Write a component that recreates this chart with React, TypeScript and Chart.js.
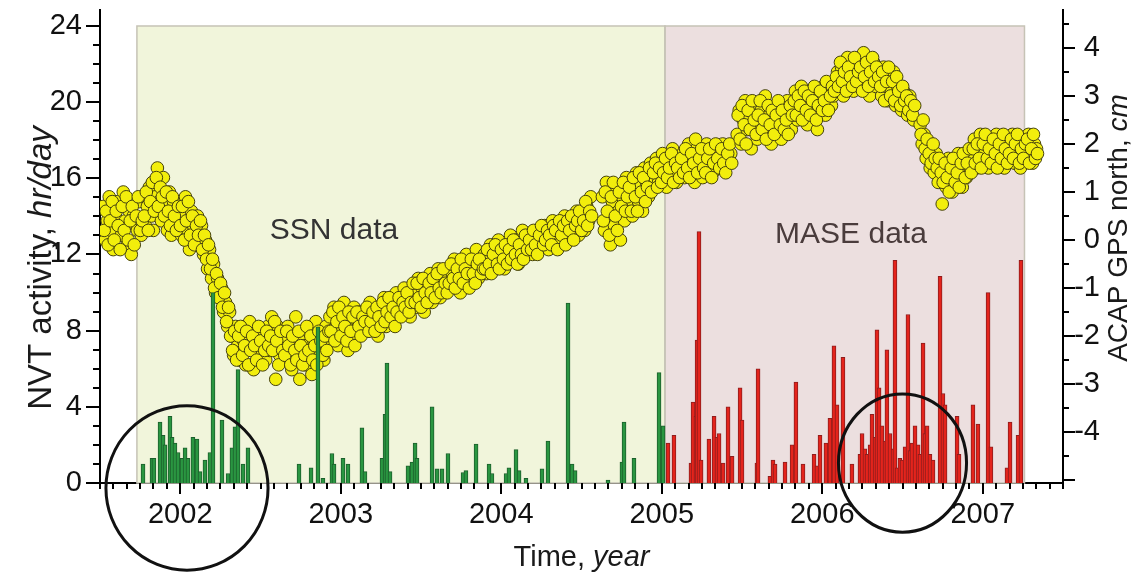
import React, { useEffect, useRef } from 'react';
import { Chart, registerables } from 'chart.js';

Chart.register(...registerables);

// ---------- tick labels ----------
const xTickYears = [2002, 2003, 2004, 2005, 2006, 2007];
const leftTicks = [0, 4, 8, 12, 16, 20, 24];
const rightTicks = [4, 3, 2, 1, 0, -1, -2, -3, -4];

// ---------- NVT activity bars (hr/day) ----------
const ssnBarYears = [
  2001.768, 2001.824, 2001.836, 2001.874, 2001.893, 2001.905, 2001.936, 2001.949, 2001.967, 2001.986,
  2002.011, 2002.030, 2002.048, 2002.079, 2002.104, 2002.123, 2002.154, 2002.185, 2002.204, 2002.260,
  2002.298, 2002.322, 2002.341, 2002.360, 2002.391, 2002.422, 2002.740, 2002.815, 2002.858, 2002.889,
  2002.945, 2002.958, 2003.014, 2003.045, 2003.132, 2003.151, 2003.257, 2003.276, 2003.288, 2003.307,
  2003.419, 2003.444, 2003.463, 2003.475, 2003.569, 2003.600, 2003.631, 2003.668, 2003.762, 2003.780,
  2003.843, 2003.924, 2003.942, 2004.030, 2004.048, 2004.092, 2004.111, 2004.154, 2004.254, 2004.291,
  2004.416, 2004.441, 2004.460, 2004.665, 2004.752, 2004.765, 2004.827, 2004.983, 2005.008,
];
const ssnBarHours = [
  1.0, 1.3, 1.3, 3.2, 2.5, 2.0, 3.5, 2.4, 2.1, 1.6,
  1.3, 1.85, 1.3, 2.4, 2.3, 0.6, 1.2, 1.6, 10.0, 3.3,
  0.5, 1.85, 2.95, 5.95, 1.0, 1.85, 1.0, 0.8, 8.2, 0.25,
  1.55, 1.0, 1.3, 1.0, 2.9, 0.6, 1.3, 3.6, 6.3, 0.6,
  0.9, 1.1, 2.1, 1.3, 4.0, 0.75, 0.75, 1.55, 0.55, 0.65,
  2.05, 1.0, 0.5, 0.5, 0.8, 1.75, 0.65, 0.25, 0.75, 2.2,
  9.45, 1.0, 0.65, 0.15, 1.1, 3.2, 1.3, 5.8, 3.0,
];
const maseBarYears = [
  2005.039, 2005.076, 2005.182, 2005.195, 2005.213, 2005.220, 2005.232, 2005.245, 2005.294, 2005.326,
  2005.344, 2005.357, 2005.382, 2005.413, 2005.438, 2005.488, 2005.500, 2005.593, 2005.600, 2005.674,
  2005.693, 2005.706, 2005.768, 2005.812, 2005.836, 2005.880, 2005.949, 2005.967, 2005.986, 2006.023,
  2006.048, 2006.073, 2006.092, 2006.129, 2006.185, 2006.235, 2006.248, 2006.266, 2006.279, 2006.298,
  2006.310, 2006.329, 2006.341, 2006.354, 2006.372, 2006.391, 2006.403, 2006.422, 2006.441, 2006.453,
  2006.466, 2006.484, 2006.497, 2006.516, 2006.534, 2006.547, 2006.559, 2006.578, 2006.597, 2006.609,
  2006.628, 2006.640, 2006.653, 2006.671, 2006.690, 2006.734, 2006.752, 2006.765, 2006.840, 2006.852,
  2006.939, 2006.970, 2007.033, 2007.051, 2007.151, 2007.170, 2007.220, 2007.238,
];
const maseBarHours = [
  2.1, 2.5, 1.05, 4.25, 3.5, 7.5, 13.2, 1.2, 2.3, 3.5,
  2.4, 2.6, 1.05, 4.0, 1.4, 5.0, 3.3, 1.05, 6.0, 0.35,
  1.2, 1.0, 1.1, 2.0, 5.3, 1.0, 1.5, 0.9, 2.5, 2.1,
  3.4, 7.2, 4.1, 6.6, 1.0, 1.5, 2.6, 1.8, 1.5, 2.0,
  3.6, 2.4, 8.05, 5.0, 3.0, 2.2, 7.0, 2.6, 1.8, 11.7,
  0.8, 1.3, 1.2, 1.9, 8.85, 1.7, 2.1, 3.0, 2.0, 1.5,
  7.35, 2.6, 3.0, 1.5, 1.2, 10.85, 4.7, 4.1, 3.5, 1.5,
  4.1, 3.1, 10.0, 1.9, 0.8, 3.2, 2.5, 11.7,
];

// ---------- ACAP GPS north (cm), two interleaved samplings per segment ----------
const gpsStep = 0.0125;
const gpsSeg1Start = 2001.52;
const gpsSeg1 = [
  0.7, 0.0, 0.4, 0.9, 0.2, -0.2, 0.5, 0.8, 0.3, 0.1, 1.0, 0.4, -0.1, 0.6, -0.3, 0.5, 0.3, 0.2, 0.8, 0.1,
  0.9, 0.3, 0.7, 1.1, 0.5, 0.2, 0.9, 1.5, 0.8, 0.4, 1.3, 0.7, 0.2, 1.0, 0.1, 0.8, 0.6, 0.4,
  0.8, 0.1, 0.5, 0.9, 0.2, -0.2, 0.6, 0.3, 0.0,
  0.5, 0.0, 0.3, -0.3, 0.0, -0.6, -0.2, -0.8, -0.5, -1.1, -0.8,
  -1.2, -1.0, -1.5, -1.3, -1.8, -1.5,
  -2.0, -2.4, -1.8, -2.2, -2.5, -1.9, -2.1, -2.6, -2.0, -1.7, -2.3, -2.7, -2.1, -1.9, -2.4, -2.2, -2.0, -2.5, -1.8, -2.3,
  -1.6, -2.2, -2.9, -1.8, -2.4, -2.0,
  -2.0, -2.5, -1.8, -2.3, -2.7, -2.1, -1.6, -2.4, -2.9, -2.0, -2.2, -2.6, -1.9, -2.3, -2.8, -2.1, -1.7, -2.4, -2.2, -2.0, -2.5, -1.8, -2.1,
  -1.6, -2.0, -1.4, -1.8, -2.2, -1.5, -1.9, -1.3, -1.7, -2.3, -1.6, -1.8, -1.4, -2.0, -1.7, -1.5, -1.9,
  -1.5, -1.9, -1.6, -1.3, -1.8, -1.5, -1.7, -2.0, -1.4, -1.6, -1.2, -1.8, -1.5, -1.3, -1.7, -1.4, -1.1, -1.6, -1.3, -1.5, -1.0, -1.4, -1.2, -1.6, -1.1,
  -1.0, -1.4, -0.8, -1.2, -1.0, -1.5, -0.9, -1.1, -0.7, -1.3, -0.9, -1.0, -0.6, -1.2, -0.8, -1.0, -0.7,
  -0.6, -1.0, -0.7, -0.4, -0.9, -0.6, -1.1, -0.5, -0.8, -0.3, -0.7, -0.9, -0.5, -0.6, -0.2, -0.8, -0.5, -0.4,
  -0.3, -0.7, -0.4, -0.1, -0.6, -0.3, -0.5, 0.0, -0.4, -0.2, -0.6, -0.1, -0.3, 0.1, -0.4, -0.2, 0.0, -0.5, -0.1, 0.2, -0.3, 0.0, -0.2,
  0.1, -0.3, 0.0, 0.2, -0.2, 0.1, -0.1, 0.3, 0.0, -0.2, 0.2, 0.4, 0.0, 0.1, -0.1, 0.3, 0.2, 0.5, 0.0, 0.3, 0.1, 0.4, 0.2, 0.6, 0.1, 0.3, 0.5, 0.2, 0.7, 0.4, 0.9,
];
const gpsSeg1bStart = 2001.526;
const gpsSeg1b = [
  0.2, 0.6, -0.1, 0.4, 0.8, 0.0, 0.6, 0.3, -0.2, 0.7, 0.2, 0.9, 0.0, 0.4, 0.7, -0.1, 0.5, 0.9, 0.2, 0.4,
  0.5, 1.0, 0.2, 0.8, 1.2, 0.6, 1.3, 0.7, 1.1, 0.9, 0.5, 1.0, 0.6, 0.3, 0.9, 0.5, 0.2, 0.7,
  0.3, 0.7, 0.0, 0.4, 0.8, 0.1, 0.5, -0.1, 0.3,
  0.1, 0.4, -0.2, 0.1, -0.4, -0.1, -0.6, -0.4, -1.0, -0.7, -1.2,
  -0.9, -1.4, -1.1, -1.7, -1.4, -2.0,
  -2.3, -1.9, -2.5, -2.0, -1.8, -2.4, -2.2, -1.9, -2.6, -2.3, -2.0, -2.2, -2.5, -1.8, -2.1, -2.6, -2.3, -1.9, -2.2, -2.0,
  -2.3, -1.7, -2.1, -2.6, -1.9, -2.3,
  -2.4, -1.9, -2.2, -2.6, -2.0, -2.3, -2.5, -1.9, -2.2, -2.6, -2.4, -1.8, -2.3, -2.0, -2.5, -2.2, -2.6, -1.9, -2.1, -2.4, -2.0, -2.3, -1.9,
  -1.9, -1.5, -2.1, -1.7, -1.4, -2.0, -1.6, -1.8, -2.1, -1.5, -1.9, -1.6, -2.2, -1.5, -1.8, -2.0, -1.6,
  -1.7, -1.4, -1.9, -1.7, -1.5, -1.9, -1.4, -1.6, -1.8, -1.3, -1.7, -1.5, -1.2, -1.6, -1.4, -1.8, -1.5, -1.2, -1.6, -1.3, -1.4, -1.1, -1.5, -1.3, -0.9,
  -1.3, -0.9, -1.2, -1.4, -0.8, -1.1, -1.3, -0.9, -1.1, -0.8, -1.2, -0.7, -1.0, -1.1, -0.6, -0.9, -1.1,
  -0.9, -0.5, -0.8, -1.0, -0.6, -0.8, -0.4, -0.9, -0.6, -0.7, -1.0, -0.4, -0.7, -0.9, -0.5, -0.4, -0.7, -0.6,
  -0.6, -0.2, -0.5, -0.7, -0.3, -0.1, -0.5, -0.6, -0.2, -0.4, -0.1, -0.5, -0.2, -0.4, 0.0, -0.3, -0.5, -0.1, -0.3, -0.4, 0.1, -0.2, 0.0,
  -0.2, 0.2, -0.1, -0.3, 0.1, 0.3, -0.1, 0.0, 0.2, 0.1, -0.1, 0.3, 0.2, -0.2, 0.4, 0.1, 0.3, -0.1, 0.4, 0.2, 0.5, 0.0, 0.3, 0.4, 0.6, 0.2, 0.4, 0.8, 0.3, 0.6, 0.5,
];
const gpsSeg2Start = 2004.63;
const gpsSeg2 = [
  0.9, 0.2, 1.2, 0.5, -0.1, 0.8, 0.3, 1.1, 0.6, 0.0, 0.9, 0.4, 1.3,
  0.7, 1.2, 0.5, 1.0, 1.4, 0.8, 1.1, 0.6, 1.5, 1.2, 0.9, 1.6, 1.1,
  1.3, 1.7, 1.2, 1.5, 1.8, 1.4, 1.1, 1.6, 1.3, 1.9, 1.4, 1.2, 1.7,
  1.5, 1.8, 1.3, 1.6, 2.0, 1.4, 1.7, 1.2, 1.9, 1.5, 1.6, 1.3, 1.8, 2.0, 1.5, 1.7, 1.4, 1.9, 1.6, 1.8, 1.5, 2.0, 1.7, 1.9, 1.6, 1.8,
];
const gpsSeg2bStart = 2004.636;
const gpsSeg2b = [
  0.4, 1.0, 0.6, 0.1, 0.9, 1.2, 0.5, 0.2, 1.0, 0.7, 1.2, 0.6, 0.9,
  1.1, 0.6, 1.3, 0.9, 0.6, 1.4, 1.0, 1.3, 0.8, 1.1, 1.5, 1.0, 1.4,
  1.6, 1.1, 1.5, 1.2, 1.4, 1.7, 1.3, 1.5, 1.8, 1.2, 1.6, 1.5, 1.3,
  1.7, 1.4, 1.9, 1.5, 1.3, 1.8, 1.6, 2.1, 1.4, 1.7, 1.9, 1.5, 1.4, 1.7, 1.9, 1.3, 1.6, 2.0, 1.7, 1.5, 1.9, 1.6, 1.4, 1.8, 2.0, 1.6,
];
const gpsSeg3Start = 2005.47;
const gpsSeg3 = [
  2.2, 2.7, 2.0, 2.5, 2.9, 2.3, 2.6, 1.9, 2.4, 2.8, 2.1, 2.5, 2.7, 2.2, 3.0, 2.4, 2.6, 2.0, 2.5, 2.8, 2.3, 2.6, 2.1, 2.7, 2.4, 2.9, 2.5, 2.3,
  2.7, 3.1, 2.5, 2.9, 3.2, 2.6, 3.0, 2.4, 2.8, 3.1, 2.7, 2.9, 2.3, 3.0, 2.8, 3.2, 2.6, 2.9, 3.1, 2.8, 3.0,
  3.1, 3.5, 3.2, 3.6, 3.0, 3.4, 3.8, 3.3, 3.5, 3.1, 3.7, 3.4, 3.2, 3.6, 3.9, 3.3, 3.5, 3.0, 3.4, 3.7, 3.2, 3.5,
  3.4, 3.0, 3.6, 3.2, 2.9, 3.4, 3.1, 3.5, 2.8, 3.2, 3.0, 2.7, 3.1, 2.8, 2.6, 3.0, 2.7, 2.5,
];
const gpsSeg3bStart = 2005.476;
const gpsSeg3b = [
  2.6, 2.1, 2.8, 2.4, 2.0, 2.7, 2.3, 2.9, 2.5, 2.2, 2.6, 2.9, 2.3, 2.5, 2.1, 2.8, 2.4, 2.7, 2.2, 2.6, 2.9, 2.4, 2.7, 2.3, 2.5, 2.2, 2.8, 2.6,
  2.9, 2.6, 3.0, 2.8, 2.5, 3.1, 2.7, 3.0, 2.6, 2.9, 3.2, 2.5, 2.8, 3.1, 2.7, 2.9, 3.3, 2.7, 3.0, 3.2, 3.1,
  3.4, 3.2, 3.7, 3.3, 3.5, 3.1, 3.6, 3.4, 3.2, 3.8, 3.3, 3.5, 3.6, 3.1, 3.4, 3.7, 3.2, 3.5, 3.8, 3.3, 3.6, 3.4,
  3.2, 3.5, 2.9, 3.3, 3.6, 3.0, 3.3, 2.9, 3.4, 3.1, 2.8, 3.2, 2.9, 3.0, 2.7, 2.9, 2.6, 2.8,
];
const gpsSeg4Start = 2006.61;
const gpsSeg4 = [
  2.4, 2.0, 2.2, 1.7, 2.0, 1.5, 1.9, 1.4, 1.8, 1.2, 1.6,
  0.75, 1.4, 1.1, 1.7, 1.3, 1.0, 1.5, 1.2, 1.8, 1.4, 1.1, 1.6, 1.3, 1.7, 1.5,
  1.7, 2.1, 1.5, 1.9, 2.2, 1.6, 1.8, 2.0, 1.5, 2.1, 1.7, 1.9, 2.2, 1.6, 2.0, 1.8, 1.5, 2.1, 1.9, 1.7, 2.2, 1.6, 1.8, 2.0, 1.5, 1.9, 2.1, 1.7, 2.2, 1.8, 1.6, 2.0, 1.9,
];
const gpsSeg4bStart = 2006.616;
const gpsSeg4b = [
  2.2, 2.5, 1.9, 2.1, 1.8, 1.6, 2.0, 1.7, 1.5, 1.7, 1.4,
  1.2, 1.6, 1.3, 1.0, 1.5, 1.7, 1.2, 1.4, 1.1, 1.6, 1.8, 1.3, 1.6, 1.9, 1.4,
  1.9, 1.6, 2.0, 1.7, 1.5, 2.0, 2.2, 1.7, 1.9, 1.6, 2.1, 1.8, 1.5, 2.0, 1.7, 2.2, 1.9, 1.6, 1.8, 2.1, 1.7, 2.0, 2.2, 1.6, 1.9, 1.7, 2.0, 2.1, 1.6, 1.9, 2.2, 1.7, 1.8,
];

// ---------- shaded data periods and annotations ----------
const ssnSpan = [2001.73, 2005.02];
const maseSpan = [2005.02, 2007.26];
const spanTopHours = 24;
const circleMarks = [
  { cx: 2002.042, cy: -0.26, rx: 0.505, ry: 4.32 },
  { cx: 2006.5, cy: 1.05, rx: 0.399, ry: 3.63 },
];

const FONT = '"Liberation Sans", Arial, sans-serif';

function drawMixed(ctx: CanvasRenderingContext2D, parts: [string, boolean][], size: number) {
  const widths = parts.map(([t, it]) => {
    ctx.font = `${it ? 'italic ' : ''}${size}px ${FONT}`;
    return ctx.measureText(t).width;
  });
  const total = widths.reduce((a, b) => a + b, 0);
  let xx = -total / 2;
  ctx.textAlign = 'left';
  ctx.textBaseline = 'alphabetic';
  parts.forEach(([t, it], i) => {
    ctx.font = `${it ? 'italic ' : ''}${size}px ${FONT}`;
    ctx.fillText(t, xx, 0);
    xx += widths[i];
  });
}

const decorPlugin = {
  id: 'decor',
  beforeDatasetsDraw(chart: any) {
    const { ctx, scales } = chart;
    const x = scales.x, y = scales.y;
    const top = y.getPixelForValue(spanTopHours);
    const bottom = y.getPixelForValue(0);
    ctx.save();
    const g0 = x.getPixelForValue(ssnSpan[0]), g1 = x.getPixelForValue(ssnSpan[1]);
    const m0 = x.getPixelForValue(maseSpan[0]), m1 = x.getPixelForValue(maseSpan[1]);
    ctx.fillStyle = '#f1f5db';
    ctx.fillRect(g0, top, g1 - g0, bottom - top);
    ctx.fillStyle = '#ecdfdf';
    ctx.fillRect(m0, top, m1 - m0, bottom - top);
    ctx.strokeStyle = '#c6c3b6';
    ctx.lineWidth = 1.5;
    ctx.strokeRect(g0, top, g1 - g0, bottom - top);
    ctx.strokeRect(m0, top, m1 - m0, bottom - top);
    ctx.font = `30px ${FONT}`;
    ctx.textAlign = 'center';
    ctx.textBaseline = 'alphabetic';
    ctx.fillStyle = '#333333';
    ctx.fillText('SSN data', x.getPixelForValue(2002.958), y.getPixelForValue(12.79));
    ctx.fillStyle = '#4a3c3c';
    ctx.fillText('MASE data', x.getPixelForValue(2006.179), y.getPixelForValue(12.63));
    ctx.restore();
  },
  afterDraw(chart: any) {
    const { ctx, chartArea, scales } = chart;
    const x = scales.x, y = scales.y, y1 = scales.y1;
    ctx.save();
    ctx.strokeStyle = '#000';
    ctx.lineWidth = 2;
    ctx.beginPath();
    for (let v = 0; v <= 24; v++) {
      const py = Math.round(y.getPixelForValue(v));
      const len = v % 4 === 0 ? 14 : 7;
      ctx.moveTo(chartArea.left - len, py);
      ctx.lineTo(chartArea.left, py);
    }
    for (let k = -10; k <= 9; k++) {
      const py = Math.round(y1.getPixelForValue(k / 2));
      const len = k % 2 === 0 ? 12 : 6;
      ctx.moveTo(chartArea.right, py);
      ctx.lineTo(chartArea.right + len, py);
    }
    for (let m = 0; m <= 72; m++) {
      const px = Math.round(x.getPixelForValue(x.min + m / 12));
      const len = m % 12 === 6 ? 11 : 6;
      ctx.moveTo(px, chartArea.bottom);
      ctx.lineTo(px, chartArea.bottom + len);
    }
    ctx.stroke();

    ctx.fillStyle = '#1a1a1a';
    ctx.save();
    ctx.translate(51, 268);
    ctx.rotate(-Math.PI / 2);
    drawMixed(ctx, [['NVT activity, ', false], ['hr/day', true]], 33);
    ctx.restore();

    ctx.save();
    ctx.translate((chartArea.left + chartArea.right) / 2, 566);
    drawMixed(ctx, [['Time, ', false], ['year', true]], 29);
    ctx.restore();

    ctx.save();
    ctx.translate(1127, 228);
    ctx.rotate(-Math.PI / 2);
    drawMixed(ctx, [['ACAP GPS north, ', false], ['cm', true]], 28);
    ctx.restore();

    ctx.strokeStyle = '#111';
    ctx.lineWidth = 3;
    circleMarks.forEach((c) => {
      const cx = x.getPixelForValue(c.cx);
      const cy = y.getPixelForValue(c.cy);
      const rx = x.getPixelForValue(c.cx + c.rx) - cx;
      const ry = y.getPixelForValue(c.cy) - y.getPixelForValue(c.cy + c.ry);
      ctx.beginPath();
      ctx.ellipse(cx, cy, rx, ry, 0, 0, Math.PI * 2);
      ctx.stroke();
    });
    ctx.restore();
  },
};

function segPoints(start: number, vals: number[]) {
  return vals.map((v, i) => ({ x: start + i * gpsStep, y: v }));
}

function noEdgePadding(s: any) {
  s.paddingTop = 0;
  s.paddingBottom = 0;
  s.paddingLeft = 0;
  s.paddingRight = 0;
}

export default function App() {
  const ref = useRef<HTMLCanvasElement | null>(null);

  useEffect(() => {
    if (!ref.current) return;
    const gpsPoints = [
      ...segPoints(gpsSeg1Start, gpsSeg1),
      ...segPoints(gpsSeg1bStart, gpsSeg1b),
      ...segPoints(gpsSeg2Start, gpsSeg2),
      ...segPoints(gpsSeg2bStart, gpsSeg2b),
      ...segPoints(gpsSeg3Start, gpsSeg3),
      ...segPoints(gpsSeg3bStart, gpsSeg3b),
      ...segPoints(gpsSeg4Start, gpsSeg4),
      ...segPoints(gpsSeg4bStart, gpsSeg4b),
    ];
    const ssnBars = ssnBarYears.map((t, i) => ({ x: t, y: ssnBarHours[i] }));
    const maseBars = maseBarYears.map((t, i) => ({ x: t, y: maseBarHours[i] }));

    const tickFont = { family: FONT, size: 29 };
    const chart = new Chart(ref.current, {
      type: 'bar',
      data: {
        datasets: [
          {
            type: 'scatter',
            label: 'ACAP GPS north',
            data: gpsPoints,
            xAxisID: 'x',
            yAxisID: 'y1',
            order: 2,
            pointRadius: 6.3,
            pointBorderWidth: 1,
            pointBackgroundColor: '#f2ee0c',
            pointBorderColor: '#45420f',
          } as any,
          {
            type: 'bar',
            label: 'SSN',
            data: ssnBars,
            xAxisID: 'x',
            yAxisID: 'y',
            order: 0,
            backgroundColor: '#2a9641',
            borderColor: '#1c5f2c',
            borderWidth: 1,
            barThickness: 4,
            grouped: false,
          } as any,
          {
            type: 'bar',
            label: 'MASE',
            data: maseBars,
            xAxisID: 'x',
            yAxisID: 'y',
            order: 0,
            backgroundColor: '#e4241c',
            borderColor: '#8e1d1d',
            borderWidth: 1,
            barThickness: 4,
            grouped: false,
          } as any,
        ],
      },
      options: {
        responsive: false,
        animation: false,
        devicePixelRatio: 1,
        events: [],
        layout: { padding: { top: 10, right: 40, left: 0, bottom: 0 } },
        plugins: { legend: { display: false }, tooltip: { enabled: false } },
        scales: {
          x: {
            type: 'linear',
            position: 'bottom',
            min: 2001.5,
            max: 2007.5,
            offset: false,
            grid: { display: false, drawTicks: false },
            border: { display: true, color: '#000', width: 2 },
            ticks: {
              font: tickFont,
              color: '#111',
              padding: 15,
              autoSkip: false,
              maxRotation: 0,
              callback: (v: any) => String(v),
            },
            afterBuildTicks: (s: any) => {
              s.ticks = xTickYears.map((v) => ({ value: v }));
            },
            afterFit: (s: any) => {
              s.height = 92;
              noEdgePadding(s);
            },
          },
          y: {
            type: 'linear',
            position: 'left',
            min: 0,
            max: 24.84,
            grid: { display: false, drawTicks: false },
            border: { display: true, color: '#000', width: 2 },
            ticks: { font: tickFont, color: '#111', padding: 18, callback: (v: any) => String(v) },
            afterBuildTicks: (s: any) => {
              s.ticks = leftTicks.map((v) => ({ value: v }));
            },
            afterFit: (s: any) => {
              s.width = 100;
              noEdgePadding(s);
            },
          },
          y1: {
            type: 'linear',
            position: 'right',
            min: -5.06,
            max: 4.79,
            grid: { display: false, drawTicks: false },
            border: { display: true, color: '#000', width: 2 },
            ticks: {
              font: tickFont,
              color: '#111',
              padding: 0,
              crossAlign: 'far',
              callback: (v: any) => String(v),
            },
            afterBuildTicks: (s: any) => {
              s.ticks = rightTicks.map((v) => ({ value: v }));
            },
            afterFit: (s: any) => {
              s.width = 37;
              noEdgePadding(s);
            },
          },
        },
      } as any,
      plugins: [decorPlugin],
    });
    return () => chart.destroy();
  }, []);

  return (
    <div style={{ position: 'fixed', left: 0, top: 0, width: 1140, height: 575, background: '#fff' }}>
      <canvas ref={ref} width={1140} height={575} style={{ display: 'block' }} />
    </div>
  );
}
